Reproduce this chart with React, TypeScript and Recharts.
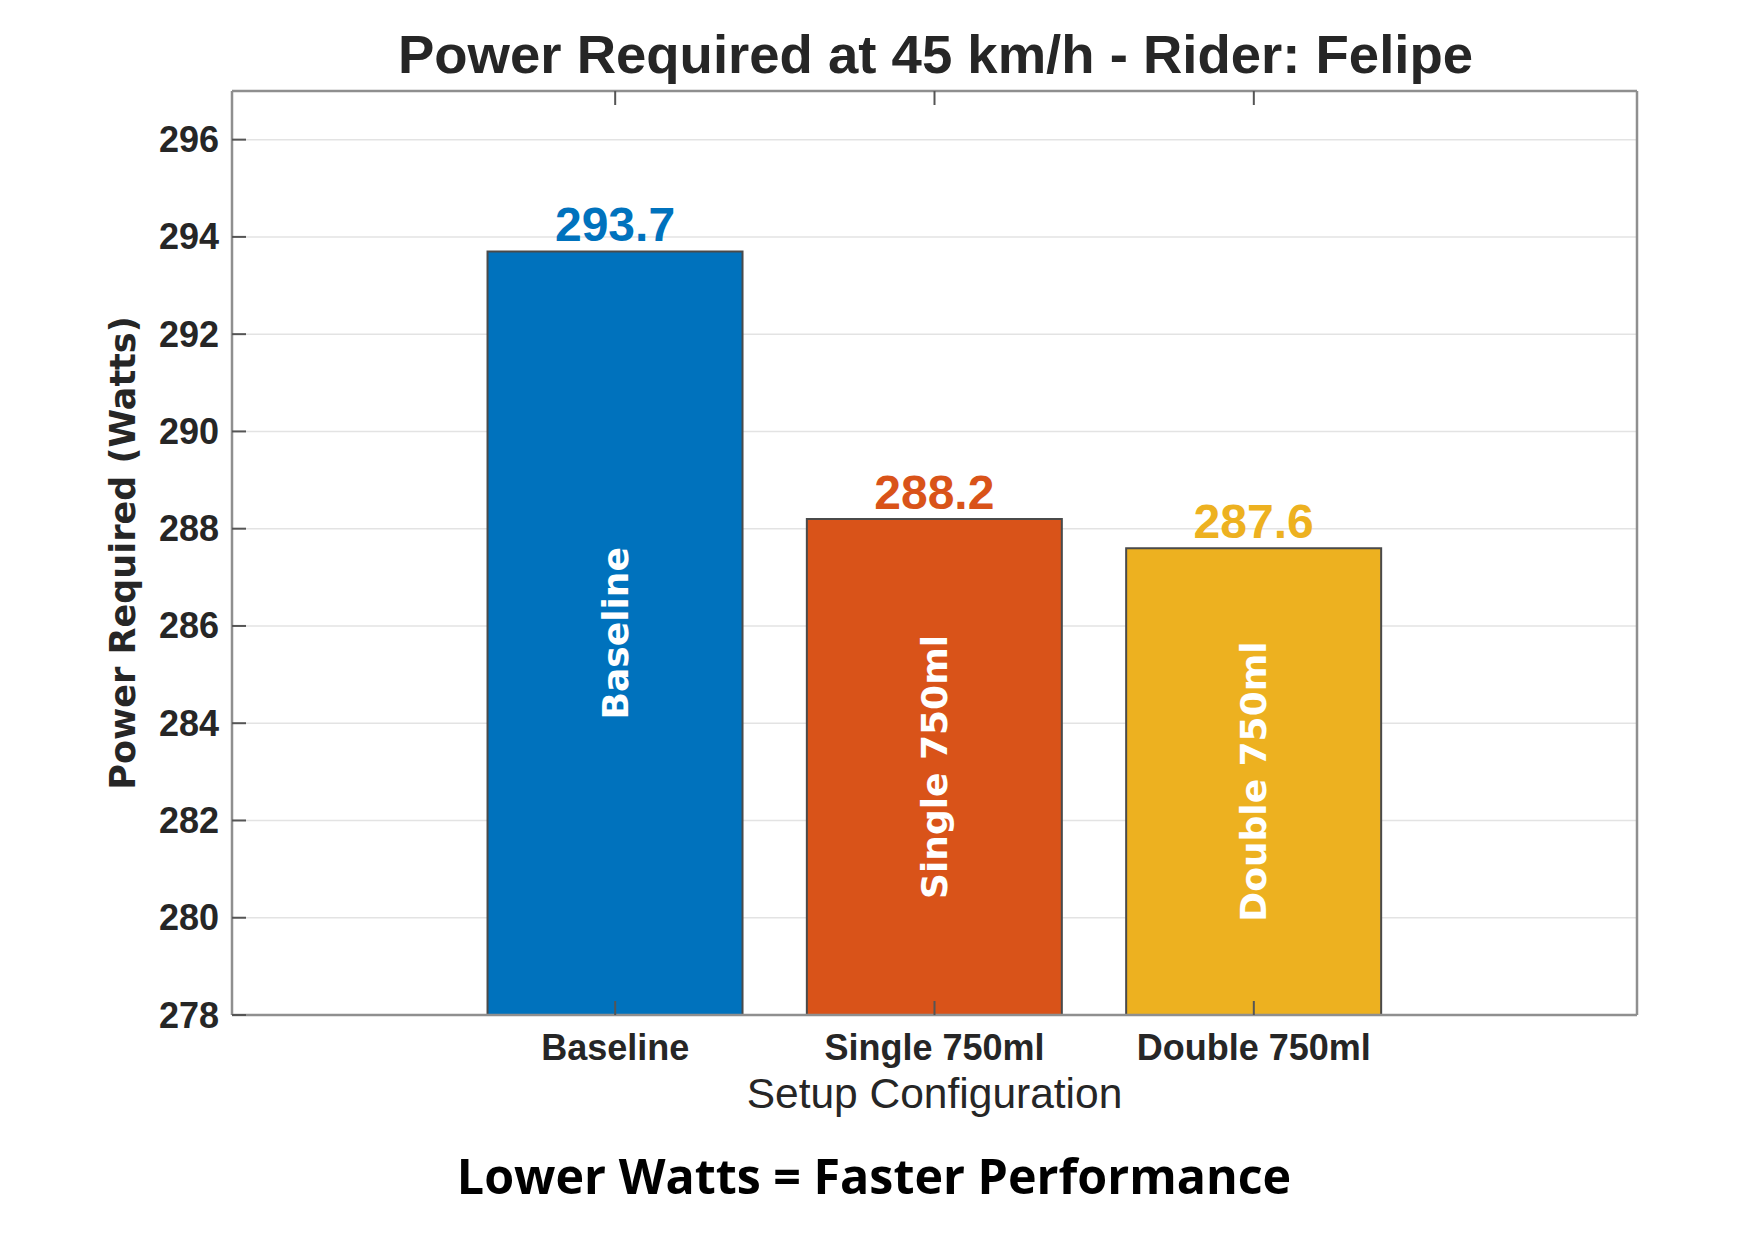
import { BarChart, Bar, XAxis, YAxis, CartesianGrid, Cell, LabelList } from "recharts";

const categories = ["Baseline", "Single 750ml", "Double 750ml"];
const powerWatts = [293.7, 288.2, 287.6];
const barColors = ["#0072BD", "#D95319", "#EDB120"];
const yTicks = [278, 280, 282, 284, 286, 288, 290, 292, 294, 296];
const xPositions = [1, 2, 3];

const data = categories.map((name, i) => ({ x: xPositions[i], name, value: powerWatts[i] }));

// plot box in page pixels
const W = 1748;
const H = 1240;
const PLOT_LEFT = 232;
const PLOT_RIGHT = 1637;
const PLOT_TOP = 91;
const PLOT_BOTTOM = 1015;
const TICK_LEN = 14;

const TEXT = "#262626";
const AXIS = "#8f8f8f";
const TICK = "#555555";
const MATLAB_FONT = "'Liberation Sans', Arial, sans-serif";
const WIDE_FONT = "'DejaVu Sans', Verdana, sans-serif";

const LeftTick = (props: any) => {
  const { y, payload } = props;
  return (
    <g>
      <line x1={PLOT_LEFT} x2={PLOT_LEFT + TICK_LEN} y1={y} y2={y} stroke={TICK} strokeWidth={2} />
      <text
        x={PLOT_LEFT - 13}
        y={y}
        textAnchor="end"
        dominantBaseline="central"
        fontFamily={MATLAB_FONT}
        fontWeight="bold"
        fontSize={36}
        fill={TEXT}
      >
        {payload.value}
      </text>
    </g>
  );
};

const RightTick = (props: any) => (
  <line x1={PLOT_RIGHT - TICK_LEN} x2={PLOT_RIGHT} y1={props.y} y2={props.y} stroke={TICK} strokeWidth={2} />
);

const BottomTick = (props: any) => {
  const { x, payload } = props;
  return (
    <g>
      <line x1={x} x2={x} y1={PLOT_BOTTOM} y2={PLOT_BOTTOM - TICK_LEN} stroke={TICK} strokeWidth={2} />
      <text
        x={x}
        y={1060}
        textAnchor="middle"
        fontFamily={MATLAB_FONT}
        fontWeight="bold"
        fontSize={36}
        fill={TEXT}
      >
        {categories[payload.value - 1]}
      </text>
    </g>
  );
};

const TopTick = (props: any) => (
  <line x1={props.x} x2={props.x} y1={PLOT_TOP} y2={PLOT_TOP + TICK_LEN} stroke={TICK} strokeWidth={2} />
);

const ValueLabel = (props: any) => {
  const { x, y, width, value, index } = props;
  return (
    <text
      x={x + width / 2}
      y={y - 10}
      textAnchor="middle"
      fontFamily={MATLAB_FONT}
      fontWeight="bold"
      fontSize={48}
      fill={barColors[index]}
    >
      {Number(value).toFixed(1)}
    </text>
  );
};

const InsideLabel = (props: any) => {
  const { x, y, width, height, value } = props;
  const cx = x + width / 2;
  const cy = y + height / 2;
  return (
    <text
      x={cx}
      y={cy}
      transform={`rotate(-90 ${cx} ${cy})`}
      textAnchor="middle"
      dominantBaseline="central"
      fontFamily={WIDE_FONT}
      fontWeight="bold"
      fontSize={36}
      fill="#ffffff"
    >
      {value}
    </text>
  );
};

export default function App() {
  return (
    <div style={{ position: "absolute", left: 0, top: 0, width: W, height: H, background: "#fff" }}>
      <BarChart
        width={W}
        height={H}
        data={data}
        margin={{ top: PLOT_TOP - 10, left: PLOT_LEFT - 100, right: W - PLOT_RIGHT - 10, bottom: H - PLOT_BOTTOM - 60 }}
      >
        <CartesianGrid xAxisId="b" yAxisId="l" vertical={false} stroke="#e3e3e3" strokeWidth={1.5} />
        <Bar
          xAxisId="b"
          yAxisId="l"
          dataKey="value"
          barSize={255}
          stroke="#4a4a4a"
          strokeWidth={2}
          isAnimationActive={false}
        >
          {data.map((d, i) => (
            <Cell key={d.name} fill={barColors[i]} />
          ))}
          <LabelList dataKey="value" content={ValueLabel} />
          <LabelList dataKey="name" content={InsideLabel} />
        </Bar>
        <XAxis
          xAxisId="b"
          dataKey="x"
          type="number"
          domain={[-0.2, 4.2]}
          ticks={xPositions}
          height={60}
          axisLine={{ stroke: AXIS, strokeWidth: 2.5 }}
          tickLine={false}
          tickSize={0}
          tick={BottomTick}
          interval={0}
        />
        <XAxis
          xAxisId="t"
          orientation="top"
          dataKey="x"
          type="number"
          domain={[-0.2, 4.2]}
          ticks={xPositions}
          height={10}
          axisLine={{ stroke: AXIS, strokeWidth: 2.5 }}
          tickLine={false}
          tickSize={0}
          tick={TopTick}
          interval={0}
        />
        <YAxis
          yAxisId="l"
          type="number"
          domain={[278, 297]}
          ticks={yTicks}
          width={100}
          axisLine={{ stroke: AXIS, strokeWidth: 2.5 }}
          tickLine={false}
          tickSize={0}
          tick={LeftTick}
          interval={0}
        />
        <YAxis
          yAxisId="r"
          orientation="right"
          type="number"
          domain={[278, 297]}
          ticks={yTicks}
          width={10}
          axisLine={{ stroke: AXIS, strokeWidth: 2.5 }}
          tickLine={false}
          tickSize={0}
          tick={RightTick}
          interval={0}
        />
      </BarChart>
      <svg
        width={W}
        height={H}
        style={{ position: "absolute", left: 0, top: 0, pointerEvents: "none" }}
      >
        <text
          x={(PLOT_LEFT + PLOT_RIGHT) / 2 + 1}
          y={73}
          textAnchor="middle"
          fontFamily={MATLAB_FONT}
          fontWeight="bold"
          fontSize={54.5}
          fill={TEXT}
        >
          Power Required at 45 km/h - Rider: Felipe
        </text>
        <text
          x={135}
          y={(PLOT_TOP + PLOT_BOTTOM) / 2}
          transform={`rotate(-90 135 ${(PLOT_TOP + PLOT_BOTTOM) / 2})`}
          textAnchor="middle"
          fontFamily={WIDE_FONT}
          fontWeight="bold"
          fontSize={35}
          fill={TEXT}
        >
          Power Required (Watts)
        </text>
        <text
          x={(PLOT_LEFT + PLOT_RIGHT) / 2}
          y={1108}
          textAnchor="middle"
          fontFamily={MATLAB_FONT}
          fontSize={42.5}
          fill={TEXT}
        >
          Setup Configuration
        </text>
        <text
          x={W / 2}
          y={1194}
          textAnchor="middle"
          fontFamily="'Open Sans', sans-serif"
          fontWeight="bold"
          fontSize={48.4}
          fill="#000000"
        >
          Lower Watts = Faster Performance
        </text>
      </svg>
    </div>
  );
}
